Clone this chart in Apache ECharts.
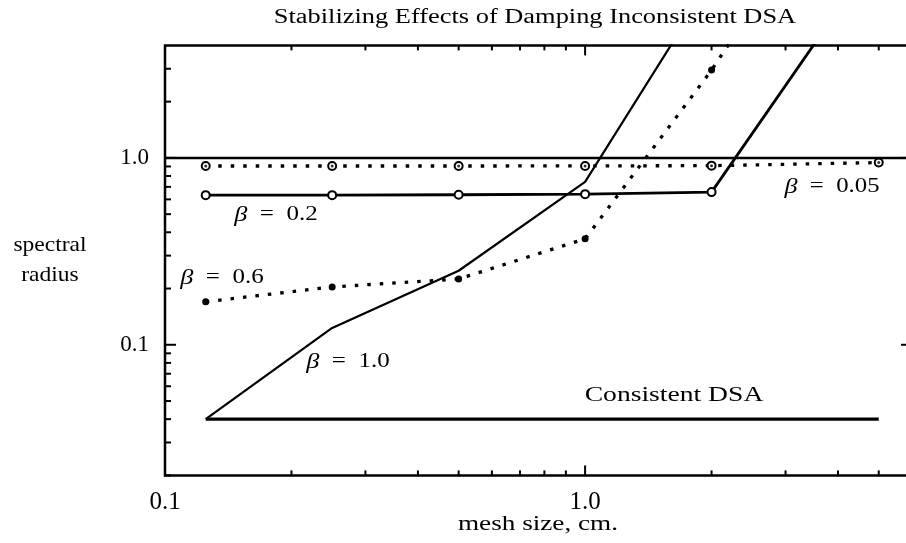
<!DOCTYPE html>
<html><head><meta charset="utf-8">
<script src="https://cdn.jsdelivr.net/npm/echarts@6/dist/echarts.min.js"></script>
<style>html,body{margin:0;padding:0;background:#fff}#c{width:906px;height:543px}</style>
</head><body><div id="c"></div>
<script>
// ---- data ----
const xBeta005 = [0.125, 0.25, 0.5, 1, 2, 5];
const beta005  = [0.905, 0.905, 0.905, 0.906, 0.909, 0.944];
const xBeta02  = [0.125, 0.25, 0.5, 1, 2, 4];
const beta02   = [0.632, 0.632, 0.635, 0.64, 0.656, 6.2];
const xBeta06  = [0.125, 0.25, 0.5, 1, 2, 4];
const beta06   = [0.17, 0.204, 0.225, 0.369, 2.95, 31];
const xBeta10  = [0.125, 0.25, 0.5, 1, 2];
const beta10   = [0.040, 0.123, 0.249, 0.744, 8.9];
const xConsistent = [0.125, 5];
const consistent  = [0.04, 0.04];
const referenceLevel = 1.0;

const xMajorTicks = [1];
const xMinorTicks = [0.2, 0.3, 0.4, 0.5, 0.6, 0.7, 0.8, 0.9, 2, 3, 4, 5];
const yMajorTicks = [0.1, 1];
const yMinorTicks = [0.02, 0.03, 0.04, 0.05, 0.06, 0.07, 0.08, 0.09,
                     0.2, 0.3, 0.4, 0.5, 0.6, 0.7, 0.8, 0.9, 2, 3];

const titleText = 'Stabilizing Effects of Damping Inconsistent DSA';
const xName = 'mesh size, cm.';
const yName = 'spectral\nradius';

// ---- helpers ----
const FONT = '"Liberation Serif", "DejaVu Serif", serif';
const pairs = (xs, ys) => xs.map((x, i) => [x, ys[i]]);
function decadeLabel(v) {
  const l = Math.log10(v), r = Math.round(l);
  if (Math.abs(l - r) > 1e-6) return '';
  return r >= 0 ? Math.pow(10, r).toFixed(1) : Math.pow(10, r).toFixed(-r);
}
function xTickSeries(vals, len) {
  return {
    type: 'custom', silent: true, z: 5,
    data: vals.map(v => [v, 1]),
    encode: {x: 0, y: 1},
    renderItem: (params, api) => {
      const cs = params.coordSys;
      const p = api.coord([api.value(0), 1]);
      const b = cs.y + cs.height, t = cs.y;
      return {type: 'group', children: [
        {type: 'line', shape: {x1: p[0], y1: b, x2: p[0], y2: b - len}, style: {stroke: '#000', lineWidth: 2}},
        {type: 'line', shape: {x1: p[0], y1: t, x2: p[0], y2: t + len}, style: {stroke: '#000', lineWidth: 2}}
      ]};
    }
  };
}
function yTickSeries(vals, len) {
  return {
    type: 'custom', silent: true, z: 5,
    data: vals.map(v => [0.1, v]),
    encode: {x: 0, y: 1},
    renderItem: (params, api) => {
      const cs = params.coordSys;
      const p = api.coord([0.1, api.value(1)]);
      const l = cs.x, r = cs.x + cs.width;
      return {type: 'group', children: [
        {type: 'line', shape: {x1: l, y1: p[1], x2: l + len, y2: p[1]}, style: {stroke: '#000', lineWidth: 2}},
        {type: 'line', shape: {x1: r, y1: p[1], x2: r - len, y2: p[1]}, style: {stroke: '#000', lineWidth: 2}}
      ]};
    }
  };
}
const dotted = [3.5, 9];
function label(text, x, y, size, sx) {
  return {type: 'text', x: x, y: y, scaleX: sx, z: 10,
    style: {text: text, font: size + 'px ' + FONT, fill: '#000', align: 'center', verticalAlign: 'middle',
            lineHeight: 30, rich: {b: {fontStyle: 'italic', fontSize: size + 1, fontFamily: FONT}}}};
}

const chart = echarts.init(document.getElementById('c'), null, {renderer: 'canvas'});
chart.setOption({
  animation: false,
  backgroundColor: '#fff',
  grid: {left: 165, top: 45.4, width: 747, height: 430, show: true, outerBoundsMode: 'none',
         containLabel: false, borderColor: '#000', borderWidth: 2.5, backgroundColor: 'transparent'},
  xAxis: {
    type: 'log', logBase: 10, min: 0.1, max: 6,
    axisLine: {show: false}, axisTick: {show: false}, splitLine: {show: false},
    axisLabel: {formatter: decadeLabel, fontFamily: FONT, fontSize: 25, color: '#000', margin: 15,
                showMinLabel: true, showMaxLabel: false}
  },
  yAxis: {
    type: 'log', logBase: 10, min: 0.02, max: 4,
    axisLine: {show: false}, axisTick: {show: false}, splitLine: {show: false},
    axisLabel: {formatter: decadeLabel, fontFamily: FONT, fontSize: 23, color: '#000', margin: 16}
  },
  series: [
    xTickSeries(xMinorTicks, 5), xTickSeries(xMajorTicks, 10),
    yTickSeries(yMinorTicks, 6), yTickSeries(yMajorTicks, 11),
    {
      name: 'reference', type: 'line', data: [], silent: true,
      markLine: {silent: true, symbol: 'none', label: {show: false},
                 lineStyle: {color: '#000', width: 2.3, type: 'solid'},
                 data: [{yAxis: referenceLevel}]}
    },
    {
      name: 'Consistent DSA', type: 'line', data: pairs(xConsistent, consistent),
      showSymbol: false, lineStyle: {color: '#000', width: 3.3}, clip: true
    },
    {
      name: 'beta 1.0', type: 'line', data: pairs(xBeta10, beta10),
      showSymbol: false, lineStyle: {color: '#000', width: 2.2}, clip: true
    },
    {
      name: 'beta 0.2', type: 'line', data: pairs(xBeta02, beta02),
      symbol: 'emptyCircle', symbolSize: 8, showAllSymbol: true,
      itemStyle: {color: '#000', borderColor: '#000', borderWidth: 1.2},
      lineStyle: {color: '#000', width: 2.8}, clip: true
    },
    {
      name: 'beta 0.6', type: 'line', data: pairs(xBeta06, beta06),
      symbol: 'circle', symbolSize: 7, showAllSymbol: true,
      itemStyle: {color: '#000'},
      lineStyle: {color: '#000', width: 3.3, type: dotted, cap: 'butt'}, clip: true
    },
    {
      name: 'beta 0.05', type: 'line', data: pairs(xBeta005, beta005),
      symbol: 'emptyCircle', symbolSize: 8, showAllSymbol: true,
      itemStyle: {color: '#000', borderColor: '#000', borderWidth: 1.5},
      lineStyle: {color: '#000', width: 3.3, type: dotted, cap: 'butt'}, clip: true
    },
    {
      name: 'beta 0.05 centre', type: 'scatter', data: pairs(xBeta005, beta005),
      symbol: 'circle', symbolSize: 3, itemStyle: {color: '#000'}, silent: true, z: 4
    }
  ],
  graphic: [
    label(titleText, 535, 18, 20, 1.32),
    label(xName, 538, 525, 20, 1.36),
    label(yName, 50, 260, 21, 1.12),
    label('Consistent DSA', 674, 396, 20, 1.38),
    label('{b|β}  =  0.2', 276, 215, 20, 1.25),
    label('{b|β}  =  0.6', 222, 278, 20, 1.25),
    label('{b|β}  =  1.0', 348, 362, 20, 1.25),
    label('{b|β}  =  0.05', 832, 187, 20, 1.24)
  ]
});
</script>
</body></html>
